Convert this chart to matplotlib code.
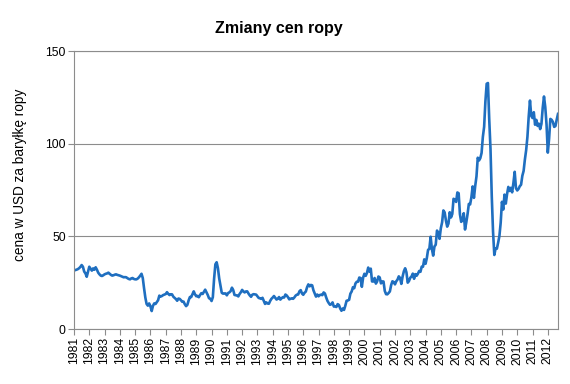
import matplotlib
matplotlib.use("Agg")
import matplotlib.pyplot as plt
import numpy as np

plt.rcParams['font.family'] = ['Liberation Sans', 'DejaVu Sans']

# Monthly oil price (USD per barrel), Jun 1981 .. Feb 2013
p1981 = [31.5, 31.8, 32.0, 32.3, 32.8, 33.5, 34.5]
p1982 = [33.6, 31.0, 30.0, 28.2, 31.0, 33.6, 32.5, 31.5, 32.7, 32.0, 33.3, 32.0]
p1983 = [30.4, 29.5, 28.8, 28.6, 29.0, 29.5, 29.8, 30.0, 30.4, 29.8, 29.2, 28.8]
p1984 = [29.0, 29.3, 29.5, 29.2, 29.0, 28.8, 28.5, 28.2, 27.9, 28.0, 27.9, 27.4]
p1985 = [27.0, 26.8, 27.3, 27.5, 27.0, 26.8, 26.8, 27.2, 27.9, 28.8, 29.8, 27.5]
p1986 = [22.0, 17.0, 13.5, 12.6, 13.8, 12.3, 9.7, 12.5, 13.8, 13.5, 14.5, 15.5]
p1987 = [18.0, 17.5, 17.8, 18.3, 18.58, 18.86, 19.86, 18.98, 18.31, 18.76, 18.67, 17.42]
p1988 = [16.75, 16.16, 15.25, 16.44, 16.22, 15.51, 14.69, 14.79, 13.38, 12.35, 13.04, 15.44]
p1989 = [17.25, 17.21, 18.72, 20.31, 18.69, 17.67, 17.85, 17.16, 18.36, 19.35, 18.89, 20.09]
p1990 = [21.22, 19.81, 18.39, 16.61, 16.35, 15.10, 17.17, 27.17, 34.90, 36.02, 32.82, 27.28]
p1991 = [23.57, 19.54, 19.08, 19.18, 19.19, 18.17, 19.40, 19.77, 20.45, 22.30, 21.03, 18.38]
p1992 = [18.20, 18.07, 17.59, 18.89, 19.82, 21.10, 20.24, 19.74, 20.27, 20.30, 19.13, 18.13]
p1993 = [17.38, 18.49, 18.79, 18.68, 18.56, 17.65, 16.76, 16.56, 16.26, 16.83, 15.18, 13.54]
p1994 = [14.36, 13.75, 13.64, 15.15, 16.29, 16.96, 17.79, 16.86, 15.89, 16.33, 17.23, 15.86]
p1995 = [16.60, 17.17, 17.00, 18.59, 18.09, 17.16, 15.99, 16.31, 16.56, 16.29, 17.02, 18.01]
p1996 = [18.52, 18.63, 20.34, 20.97, 19.15, 18.47, 19.54, 20.22, 22.55, 24.07, 23.02, 23.77]
p1997 = [23.54, 20.86, 19.19, 17.48, 18.59, 17.66, 18.35, 18.51, 18.28, 19.71, 19.15, 17.02]
p1998 = [15.18, 14.01, 13.08, 13.36, 14.36, 12.10, 12.16, 11.87, 13.42, 12.92, 11.05, 9.83]
p1999 = [11.09, 10.29, 12.53, 15.23, 15.39, 15.76, 19.08, 20.23, 22.54, 22.01, 24.60, 25.48]
p2000 = [25.51, 27.78, 27.49, 22.76, 27.74, 29.80, 28.68, 30.20, 33.14, 30.96, 32.55, 25.66]
p2001 = [25.62, 27.50, 24.50, 25.66, 28.31, 27.85, 24.61, 25.68, 25.62, 20.54, 18.80, 18.71]
p2002 = [19.42, 20.28, 23.70, 25.73, 25.35, 24.08, 25.74, 26.65, 28.40, 27.54, 24.34, 28.33]
p2003 = [31.18, 32.77, 30.61, 25.00, 25.86, 27.65, 28.35, 29.89, 27.11, 29.61, 28.75, 29.81]
p2004 = [31.28, 30.86, 33.63, 33.59, 37.57, 35.18, 38.22, 42.74, 43.20, 49.78, 43.11, 39.60]
p2005 = [44.51, 45.48, 53.10, 51.88, 48.65, 54.35, 57.52, 63.98, 62.91, 58.54, 55.24, 56.86]
p2006 = [62.99, 60.21, 62.06, 70.26, 69.78, 68.56, 73.67, 73.23, 61.96, 57.81, 58.76, 62.47]
p2007 = [53.68, 57.56, 62.05, 67.49, 67.21, 71.05, 76.93, 70.76, 77.17, 82.34, 92.41, 90.93]
p2008 = [92.18, 94.99, 103.64, 109.07, 122.80, 132.32, 132.72, 113.24, 97.23, 71.58, 52.45, 39.95]
p2009 = [43.44, 43.32, 46.54, 50.18, 57.30, 68.61, 64.44, 72.51, 67.65, 72.77, 76.66, 74.46]
p2010 = [76.17, 73.75, 78.83, 84.82, 75.95, 74.76, 75.58, 77.04, 77.84, 82.67, 85.28, 91.45]
p2011 = [96.52, 103.72, 114.64, 123.26, 114.99, 113.83, 116.97, 110.22, 112.83, 109.55, 110.77, 107.87]
p2012 = [110.69, 119.33, 125.45, 119.75, 110.34, 95.16, 102.62, 113.36, 112.86, 111.71, 109.06, 109.49]
p2013 = [112.96, 116.05]

prices = (p1981 + p1982 + p1983 + p1984 + p1985 + p1986 + p1987 + p1988 + p1989 +
          p1990 + p1991 + p1992 + p1993 + p1994 + p1995 + p1996 + p1997 + p1998 +
          p1999 + p2000 + p2001 + p2002 + p2003 + p2004 + p2005 + p2006 + p2007 +
          p2008 + p2009 + p2010 + p2011 + p2012 + p2013)

year_labels = [str(y) for y in range(1981, 2013)]
y_ticks = [0, 50, 100, 150]

x = np.arange(len(prices))

fig = plt.figure(figsize=(5.70, 3.84), dpi=100)
ax = fig.add_axes([74/570, 1 - 329/384, (558 - 74)/570, (329 - 51)/384])

ax.plot(x, prices, color='#1f6fc0', lw=1.9, solid_joinstyle='round')

ax.set_xlim(0, len(prices) - 1)
ax.set_ylim(0, 150)
ax.set_yticks(y_ticks)
ax.set_xticks(np.arange(len(year_labels)) * 12)
ax.set_xticklabels(year_labels, rotation=90)

gray = '#8c8c8c'
ax.grid(axis='y', color=gray, lw=0.8)
ax.set_axisbelow(True)
for s in ax.spines.values():
    s.set_color(gray)
    s.set_linewidth(0.8)
ax.tick_params(axis='both', color=gray, length=4, width=0.8, labelsize=8.8,
               labelcolor='#000000', pad=2)

fig.text(0.49, 1 - 29/384, 'Zmiany cen ropy', ha='center', va='center',
         fontsize=11.5, fontweight='bold')
fig.text(20/570, 1 - 175/384, 'cena w USD za baryłkę ropy', rotation=90,
         ha='center', va='center', fontsize=9.8)

fig.savefig('out.png', dpi=100)
